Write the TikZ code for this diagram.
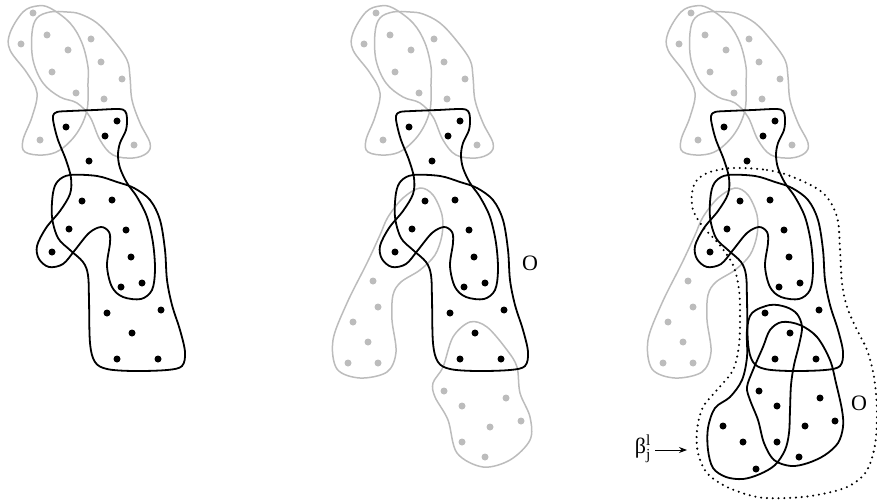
\documentclass[tikz,border=0pt]{standalone}
\usepackage{amsmath}
\usepackage{fontspec}
\setmainfont{Liberation Serif}
\usetikzlibrary{arrows.meta}
\definecolor{lgray}{RGB}{188,188,188}

\begin{document}
\begin{tikzpicture}[x=1pt,y=-1pt,
  blob/.style={line width=1.8pt,line join=round},
  gblob/.style={lgray,line width=1.5pt},
  hull/.style={line width=2.3pt,dash pattern=on 0pt off 5.8pt,line cap=round},
  lbl/.style={font=\fontsize{22}{24}\selectfont,inner sep=0pt}]
  \useasboundingbox (0,0) rectangle (877,500);
  % gray clusters shared by the three panels
  \foreach \dx in {0,343,658}{
    \begin{scope}[xshift=\dx]
      \draw[gblob] plot[smooth cycle,tension=0.6] coordinates {(37,6) (50,8) (70,23) (82,43) (88,67) (88,83) (87,110) (77,133) (60,150) (43,155) (25,152) (23,140) (32,117) (37,93) (27,73) (10,50) (10,33) (23,12)};
      \draw[gblob] plot[smooth cycle,tension=0.6] coordinates {(67,12) (80,14) (97,23) (113,40) (127,60) (130,77) (132,100) (140,123) (150,143) (147,153) (133,158) (113,155) (100,140) (90,117) (77,103) (60,97) (43,83) (33,60) (32,33) (37,18) (50,12)};
      \foreach \p in {(33,13),(21,44),(47,35),(68,50),(91,39),(52,72),(101,62),(122,79),(76,93),(104,99),(40,140),(134,145)}
        \fill[lgray] \p circle (3.5);
    \end{scope}
  }
  % gray boot, panels 2 and 3
  \foreach \dx in {343,658}{
    \begin{scope}[xshift=\dx]
      \draw[gblob] plot[smooth cycle,tension=0.55] coordinates {(77,188) (90,195) (99,215) (99,235) (92,255) (77,270) (58,282) (50,295) (49,320) (53,352) (44,372) (17,378) (-6,369) (-10,340) (4,303) (24,263) (37,235) (45,217) (60,198)};
      \foreach \p in {(30,281),(35,307),(10,322),(25,342),(5,363),(35,363)}
        \fill[lgray] \p circle (3.5);
    \end{scope}
  }
  % gray lower cluster, panel 2
  \begin{scope}[xshift=343]
    \draw[gblob] plot[smooth cycle,tension=0.55] coordinates {(127,322) (110,337) (100,367) (90,383) (92,397) (105,420) (114,453) (140,467) (167,460) (187,440) (187,417) (177,393) (174,367) (164,350) (144,327)};
    \foreach \p in {(101,391),(119,406),(163,398),(147,427),(178,421),(119,442),(142,457)}
      \fill[lgray] \p circle (3.5);
  \end{scope}
  % black clusters shared by the three panels
  \foreach \dx in {0,343,658}{
    \begin{scope}[xshift=\dx]
      \draw[blob] plot[smooth cycle,tension=0.55] coordinates {(54,125) (53,116) (57,112) (70,111) (95,110) (118,109) (125,111) (127,118) (126,130) (120,143) (118,155) (120,168) (127,183) (137,197) (147,217) (153,243) (155,270) (152,290) (141,299) (123,297) (112,287) (107,266) (110,243) (109,232) (101,227) (89,233) (75,250) (63,264) (49,267) (39,259) (37,246) (46,228) (60,211) (70,194) (71,178) (66,160) (58,140)};
      \draw[blob] plot[smooth cycle,tension=0.55] coordinates {(58,181) (70,175) (97,176) (117,182) (134,188) (150,200) (160,220) (165,250) (167,280) (172,305) (180,330) (185,352) (182,366) (167,370) (133,371) (107,369) (95,362) (90,343) (89,300) (88,275) (83,262) (70,250) (58,238) (52,217) (53,193)};
      \foreach \p in {(66,127),(117,121),(105,136),(89,161),(82,201),(112,200),(69,229),(126,230),(52,252),(131,257),(121,287),(142,283),(107,313),(161,310),(132,333),(117,359),(158,359)}
        \fill \p circle (3.5);
    \end{scope}
  }
  % panel 3: new clusters and their hull
  \begin{scope}[xshift=658]
    \draw[blob] plot[smooth cycle,tension=0.55] coordinates {(112,305) (128,307) (139,314) (144,327) (141,345) (136,365) (133,385) (132,410) (131,433) (127,450) (117,465) (102,474) (85,479) (68,477) (55,468) (50,450) (50,428) (57,408) (72,397) (84,380) (89,357) (89,330) (94,313)};
    \draw[blob] plot[smooth cycle,tension=0.55] coordinates {(124,322) (142,325) (159,337) (172,360) (178,383) (184,410) (185,427) (180,443) (167,455) (150,463) (133,466) (116,460) (106,443) (100,420) (92,400) (89,387) (95,370) (105,347) (112,330)};
    \foreach \p in {(101,391),(119,406),(162,398),(65,426),(147,426),(177,421),(85,442),(119,442),(141,457),(98,469)}
      \fill \p circle (3.5);
    \draw[hull] plot[smooth cycle,tension=0.55] coordinates {(75,168) (109,170) (135,177) (165,193) (179,217) (182,250) (184,283) (189,307) (199,330) (209,350) (216,377) (219,410) (217,445) (208,472) (189,487) (159,495) (129,498) (99,497) (69,487) (49,473) (40,453) (39,430) (45,407) (59,390) (75,370) (81,345) (82,317) (81,290) (75,265) (60,243) (45,227) (35,210) (34,193) (39,180) (52,172)};
  \end{scope}
  % labels
  \node[lbl] (o2) at (530,263) {O};
  \node[lbl] (o3) at (859,403) {O};
  \node[lbl,anchor=east] (beta) at (651,449) {β$^{\text{l}}_{\text{j}}$};
  \coordinate (btip) at (687,450);
  \draw[line width=1pt,-{Stealth[length=8pt,width=6pt]}] (beta.east|-btip) ++(4,0) -- (btip);
\end{tikzpicture}
\end{document}
